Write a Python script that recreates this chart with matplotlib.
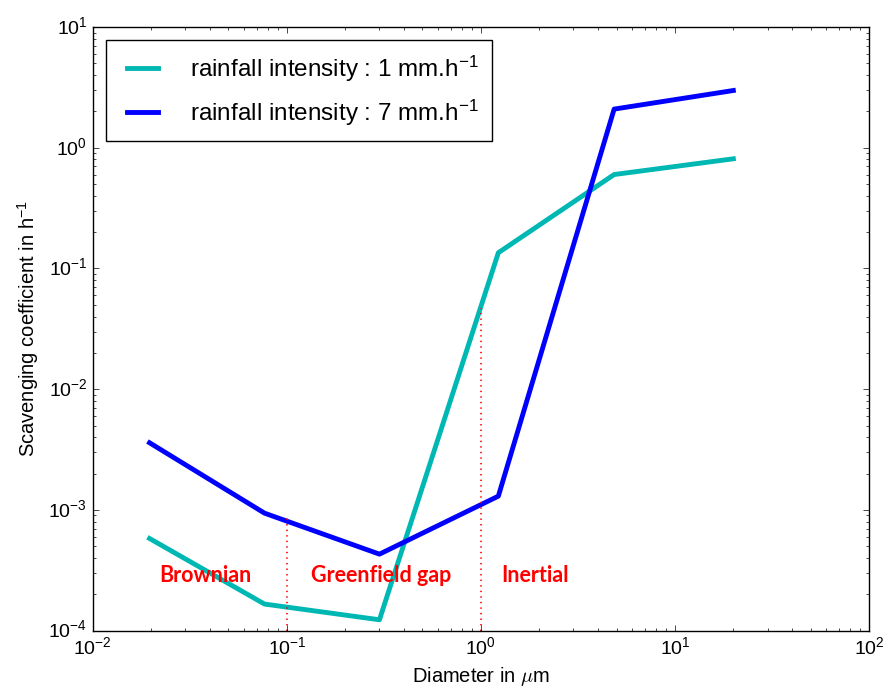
import matplotlib
matplotlib.use("Agg")
from matplotlib import pyplot as plt

plt.style.use('classic')
plt.rcParams['font.family'] = ['Liberation Sans', 'DejaVu Sans']
plt.rcParams['mathtext.default'] = 'regular'
plt.rcParams['figure.facecolor'] = 'white'
plt.rcParams['savefig.facecolor'] = 'white'

# diameters (um) and scavenging coefficients (h^-1)
diameter = [0.0196, 0.0767, 0.30, 1.23, 4.86, 20.0]
rain_1mm = [5.8e-4, 1.66e-4, 1.23e-4, 0.135, 0.60, 0.81]
rain_7mm = [3.6e-3, 9.4e-4, 4.3e-4, 1.3e-3, 2.09, 2.98]

# regime boundaries and where their dotted lines stop
bound_x = [0.1, 1.0]
bound_top = [8.5e-4, 4.7e-2]

regime_names = ['Brownian', 'Greenfield gap', 'Inertial']
regime_x = [0.038, 0.307, 1.9]
regime_y = [2.84e-4, 2.84e-4, 2.84e-4]

fig = plt.figure(figsize=(8.84, 6.93), dpi=100)
ax = fig.add_axes([0.105, 0.090, 0.878, 0.871])

ax.plot(diameter, rain_1mm, color=(0.0, 0.72, 0.70), lw=3.5,
        label='rainfall intensity : 1 mm.h$^{-1}$')
ax.plot(diameter, rain_7mm, color='b', lw=3.5,
        label='rainfall intensity : 7 mm.h$^{-1}$')

for bx, bt in zip(bound_x, bound_top):
    ax.plot([bx, bx], [1e-4, bt], color='red', ls=':', lw=1.2)

for name, tx, ty in zip(regime_names, regime_x, regime_y):
    ax.text(tx, ty, name, color='red', fontsize=15.5, fontweight='bold',
            family=['Lato', 'DejaVu Sans'], ha='center', va='center')

ax.set_xscale('log')
ax.set_yscale('log')
ax.set_xlim(1e-2, 1e2)
ax.set_ylim(1e-4, 1e1)
ax.set_xlabel(r'Diameter in $\mathit{\mu}$m', fontsize=14.5)
ax.set_ylabel('Scavenging coefficient in h$^{-1}$', fontsize=14.5)
ax.tick_params(labelsize=14)

ax.legend(loc='upper left', fontsize=17.5, handlelength=1.9,
          borderaxespad=0.55, borderpad=0.55, labelspacing=0.55,
          handletextpad=1.0)

fig.savefig('out.png', dpi=100)
